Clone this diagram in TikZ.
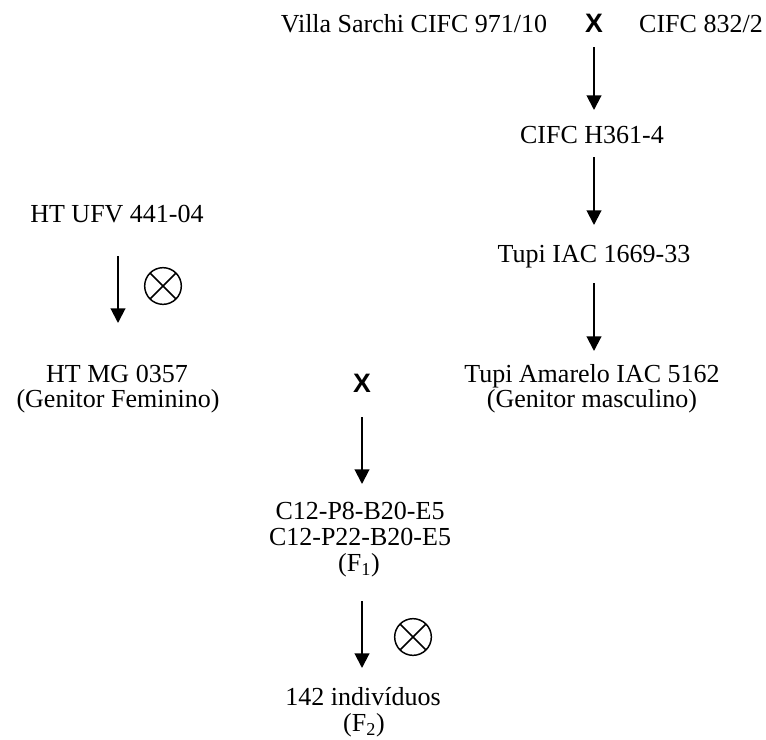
\documentclass[tikz,border=0pt]{standalone}
\usepackage{fontspec}
\setmainfont{Liberation Serif}
\newfontfamily\xfont{Liberation Sans}
\usetikzlibrary{arrows.meta}
\begin{document}
\begin{tikzpicture}[x=0.75pt,y=-0.75pt,
  lbl/.style={anchor=base,inner sep=0pt,font=\fontsize{19.5}{23}\selectfont},
  crossmark/.style={anchor=base,inner sep=0pt,font=\xfont\bfseries\fontsize{20}{23}\selectfont},
  arr/.style={line width=1.5pt,-{Triangle[length=11pt,width=11pt]}},
  selfing/.style={draw,circle,inner sep=0pt,minimum size=27.5pt,line width=1.1pt,
    path picture={\draw[line width=1.1pt]
      (path picture bounding box.north west) -- (path picture bounding box.south east)
      (path picture bounding box.north east) -- (path picture bounding box.south west);}}]
\useasboundingbox (0,0) rectangle (766,739);
% right column
\node[lbl] (villa) at (414,32) {Villa Sarchi CIFC 971/10};
\node[crossmark] (xtop) at (594,32) {X};
\node[lbl] (cifc832) at (701,32) {CIFC 832/2};
\node[lbl] (h361) at (592,143) {CIFC H361-4};
\node[lbl] (tupi) at (594,262) {Tupi IAC 1669-33};
\node[lbl] (tupiam) at (592,382) {Tupi Amarelo IAC 5162};
\node[lbl] (tupiamg) at (592,407) {(Genitor masculino)};
% left column
\node[lbl] (htufv) at (117,222) {HT UFV 441-04};
\node[lbl] (htmg) at (117,382) {HT MG 0357};
\node[lbl] (htmgg) at (118,407) {(Genitor Feminino)};
% middle
\node[crossmark] (xmid) at (362,392) {X};
\node[lbl] (c12a) at (360,519) {C12-P8-B20-E5};
\node[lbl] (c12b) at (360,545) {C12-P22-B20-E5};
\node[lbl] (f1) at (359,571) {(F\textsubscript{1})};
\node[lbl] (ind) at (363,705) {142 indivíduos};
\node[lbl] (f2) at (364,731) {(F\textsubscript{2})};
% selfing symbols
\node[selfing] (selfA) at (163,286) {};
\node[selfing] (selfB) at (413,637) {};
% arrows
\coordinate (a1s) at (594,47);  \coordinate (a1e) at (594,110);
\coordinate (a2s) at (594,157); \coordinate (a2e) at (594,225);
\coordinate (a3s) at (594,283); \coordinate (a3e) at (594,351);
\coordinate (a4s) at (118,256); \coordinate (a4e) at (118,323);
\coordinate (a5s) at (362,417); \coordinate (a5e) at (362,484);
\coordinate (a6s) at (362,601); \coordinate (a6e) at (362,668);
\draw[arr] (a1s) -- (a1e);
\draw[arr] (a2s) -- (a2e);
\draw[arr] (a3s) -- (a3e);
\draw[arr] (a4s) -- (a4e);
\draw[arr] (a5s) -- (a5e);
\draw[arr] (a6s) -- (a6e);
\end{tikzpicture}
\end{document}
